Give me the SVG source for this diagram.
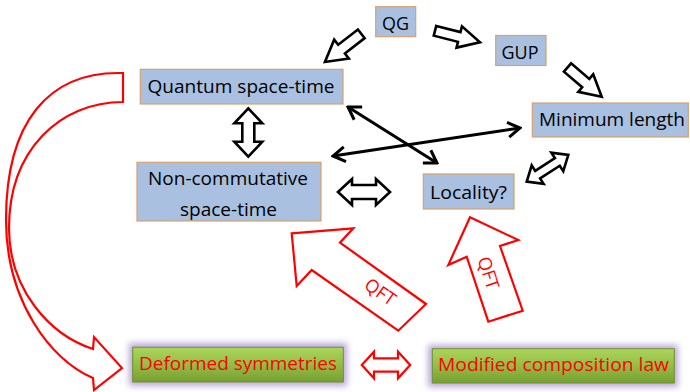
<svg xmlns="http://www.w3.org/2000/svg" width="690" height="392" viewBox="0 0 690 392">
<style>
.box{fill:#a9c0e0;stroke:#d9a06c;stroke-width:1.2}
.gbox{fill:url(#green);stroke:#6f9030;stroke-width:1}
.glow{fill:#a48ccc;opacity:.75;filter:url(#blur)}
.t{font-family:"Open Sans","Liberation Sans",sans-serif;font-size:19px;fill:#000;text-anchor:middle}
.rt{font-family:"Open Sans","Liberation Sans",sans-serif;font-size:19px;fill:#ff0000;text-anchor:middle}
.qft{font-family:"Open Sans","Liberation Sans",sans-serif;font-size:18px;fill:#ff0000;text-anchor:middle}
.ba{fill:#fff;stroke:#000;stroke-width:2.6;stroke-linejoin:miter}
.ra{fill:#fff;stroke:#ff0000;stroke-width:2.2;stroke-linejoin:miter}
.ln{fill:none;stroke:#000;stroke-width:3;marker-start:url(#v);marker-end:url(#v)}
</style>
<defs>
<linearGradient id="green" x1="0" y1="0" x2="0" y2="1">
<stop offset="0" stop-color="#acd55c"/>
<stop offset="0.5" stop-color="#93bd45"/>
<stop offset="1" stop-color="#77a032"/>
</linearGradient>
<filter id="blur" x="-20%" y="-50%" width="140%" height="200%"><feGaussianBlur stdDeviation="3"/></filter>
<marker id="v" viewBox="-15 -10 17 20" refX="0" refY="0" markerWidth="17" markerHeight="20" markerUnits="userSpaceOnUse" orient="auto-start-reverse">
<path d="M-12,-7.5 L0,0 L-12,7.5" fill="none" stroke="#000" stroke-width="3"/>
</marker>
</defs>

<g id="connectors">
<polygon class="ba" transform="translate(361.3,33.8) rotate(142.2)" points="0,-5.5 25,-5.5 25,-12 46,0 25,12 25,5.5 0,5.5"/>
<polygon class="ba" transform="translate(435,30.8) rotate(14.3)" points="0,-5 25,-5 25,-11 46.4,0 25,11 25,5 0,5"/>
<polygon class="ba" transform="translate(567.5,67.5) rotate(40.5)" points="0,-5.5 24,-5.5 24,-11.5 45,0 24,11.5 24,5.5 0,5.5"/>
<polygon class="ba" transform="translate(248.3,132.5) rotate(90)" points="-24.2,0 -9.2,-14 -9.2,-6 9.2,-6 9.2,-14 24.2,0 9.2,14 9.2,6 -9.2,6 -9.2,14"/>
<polygon class="ba" transform="translate(364,192)" points="-26,0 -12,-13 -12,-7 12,-7 12,-13 26,0 12,13 12,7 -12,7 -12,13"/>
<polygon class="ba" transform="translate(547.5,168.3) rotate(-32.7)" points="-24.7,0 -11.7,-11 -11.7,-4.5 11.7,-4.5 11.7,-11 24.7,0 11.7,11 11.7,4.5 -11.7,4.5 -11.7,11"/>
<line class="ln" x1="348" y1="107" x2="437" y2="163"/>
<line class="ln" x1="333" y1="156" x2="520" y2="128"/>
<path class="ra" d="M118,73 L123,73 L123,102 C60,102 9,150 9,228 C9,290 50,335 93,349 L94,337 L122,368 L94,390 L93,378 C50,360 6,300 6,220 C6,120 50,73 118,73 Z"/>
<polygon class="ra" points="291.7,233.3 353.3,228.3 340,242.7 426,304 398.3,330.7 311.7,270 296.7,286"/>
<text class="qft" transform="translate(376.7,297) rotate(35)">QFT</text>
<polygon class="ra" points="470,217.3 518.3,240 500,246 522.7,310.7 488.3,321.7 466.7,256.7 448.3,265"/>
<text class="qft" transform="translate(482.5,275) rotate(71.6)">QFT</text>
<polygon class="ra" transform="translate(386,365)" points="-24.2,0 -12,-13.3 -12,-6.7 12,-6.7 12,-13.3 24.2,0 12,13.3 12,6.7 -12,6.7 -12,13.3"/>
</g>

<g id="qg">
<rect class="box" x="375.7" y="6.7" width="40" height="30"/>
<text class="t" x="395.5" y="30" textLength="27" lengthAdjust="spacingAndGlyphs">QG</text>
</g>
<g id="gup">
<rect class="box" x="495.7" y="35.5" width="50.3" height="30"/>
<text class="t" x="520" y="59" textLength="37" lengthAdjust="spacingAndGlyphs">GUP</text>
</g>
<g id="minimum-length">
<rect class="box" x="532.3" y="103" width="156" height="34"/>
<text class="t" x="612" y="126" textLength="146" lengthAdjust="spacingAndGlyphs">Minimum length</text>
</g>
<g id="quantum-space-time">
<rect class="box" x="140.3" y="69.3" width="202.7" height="34.7"/>
<text class="t" x="241" y="93.3" textLength="187" lengthAdjust="spacingAndGlyphs">Quantum space-time</text>
</g>
<g id="non-commutative">
<rect class="box" x="137" y="162.3" width="184" height="58.7"/>
<text class="t" x="228" y="185" textLength="160" lengthAdjust="spacingAndGlyphs">Non-commutative</text>
<text class="t" x="228.5" y="215.5" textLength="97" lengthAdjust="spacingAndGlyphs">space-time</text>
</g>
<g id="locality">
<rect class="box" x="423.3" y="174" width="90.7" height="35"/>
<text class="t" x="468.5" y="199" textLength="77" lengthAdjust="spacingAndGlyphs">Locality?</text>
</g>
<g id="deformed-symmetries">
<rect class="glow" x="129" y="343" width="218" height="43"/>
<rect class="gbox" x="132.7" y="347.3" width="210.6" height="34.7"/>
<text class="rt" x="238" y="370" textLength="198" lengthAdjust="spacingAndGlyphs">Deformed symmetries</text>
</g>
<g id="modified-composition-law">
<rect class="glow" x="428" y="345" width="250" height="42"/>
<rect class="gbox" x="432.3" y="348.7" width="242" height="34.3"/>
<text class="rt" x="553.5" y="370.7" textLength="231" lengthAdjust="spacingAndGlyphs">Modified composition law</text>
</g>
</svg>
